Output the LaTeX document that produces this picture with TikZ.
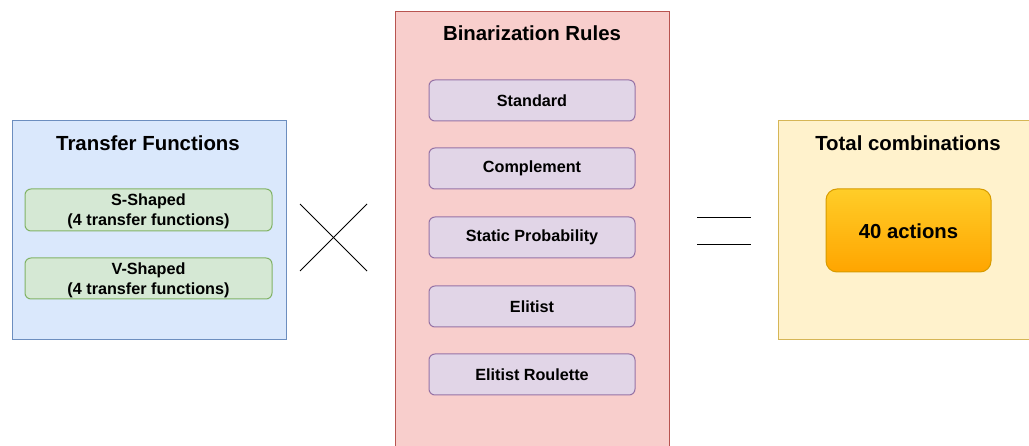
\documentclass[tikz,border=0pt]{standalone}
\usepackage{fontspec}
\setmainfont{Liberation Sans}
\definecolor{bluef}{HTML}{DAE8FC}\definecolor{blued}{HTML}{6C8EBF}
\definecolor{greenf}{HTML}{D5E8D4}\definecolor{greend}{HTML}{82B366}
\definecolor{redf}{HTML}{F8CECC}\definecolor{redd}{HTML}{B85450}
\definecolor{purf}{HTML}{E1D5E7}\definecolor{purd}{HTML}{9673A6}
\definecolor{yelf}{HTML}{FFF2CC}\definecolor{yeld}{HTML}{D6B656}
\definecolor{orT}{HTML}{FFCD28}\definecolor{orB}{HTML}{FFA500}\definecolor{orD}{HTML}{D79B00}
\tikzset{
  panel/.style={draw, line width=1pt},
  item/.style={draw, line width=1pt, rounded corners=6pt, font=\bfseries\fontsize{16.2}{20.5}\selectfont, align=center, inner sep=0pt},
  title/.style={font=\bfseries\fontsize{20.4}{24}\selectfont, inner sep=0pt},
  sign/.style={line width=0.9pt, black}
}
\begin{document}
\begin{tikzpicture}[x=1pt,y=-1pt]
\useasboundingbox (0,0) rectangle (1029,446);
% panels
\draw[panel, fill=bluef, draw=blued] (12,121) rectangle (286,340);
\node[title] (tft) at (148,143) {Transfer Functions};
\draw[panel, fill=redf, draw=redd] (395,12) rectangle (669,450);
\node[title] (brt) at (532,33) {Binarization Rules};
\draw[panel, fill=yelf, draw=yeld] (778,121) rectangle (1040,340);
\node[title] (tct) at (908,143) {Total combinations};
% transfer items
\draw[item, fill=greenf, draw=greend] (25,189) rectangle (272,231);
\node[item, draw=none] (s) at (148.5,211.5) {S-Shaped\\(4 transfer functions)};
\draw[item, fill=greenf, draw=greend] (25,258) rectangle (272,299);
\node[item, draw=none] (v) at (148.5,280.5) {V-Shaped\\(4 transfer functions)};
% rules
\foreach \y/\t/\n in {80/Standard/r1,148/Complement/r2,217/Static Probability/r3,286/Elitist/r4,354/Elitist Roulette/r5}{
  \draw[item, fill=purf, draw=purd] (429,\y) rectangle (635,\y+41);
  \node[item, draw=none] (\n) at (532,\y+20.5) {\t};
}
% 40 actions
\shade[top color=orT, bottom color=orB, rounded corners=11pt] (826,189) rectangle (991,272);
\draw[orD, line width=1pt, rounded corners=11pt] (826,189) rectangle (991,272);
\node[font=\bfseries\fontsize{20.3}{24}\selectfont, inner sep=0pt] (act) at (908.5,231.5) {40 actions};
% times sign
\coordinate (x1) at (300,204); \coordinate (x2) at (367,271);
\coordinate (x3) at (300,271); \coordinate (x4) at (367,204);
\draw[sign] (x1) -- (x2);
\draw[sign] (x3) -- (x4);
% equals sign
\coordinate (e1) at (697,217); \coordinate (e2) at (751,217);
\coordinate (e3) at (697,244); \coordinate (e4) at (751,244);
\draw[sign] (e1) -- (e2);
\draw[sign] (e3) -- (e4);
\end{tikzpicture}
\end{document}
